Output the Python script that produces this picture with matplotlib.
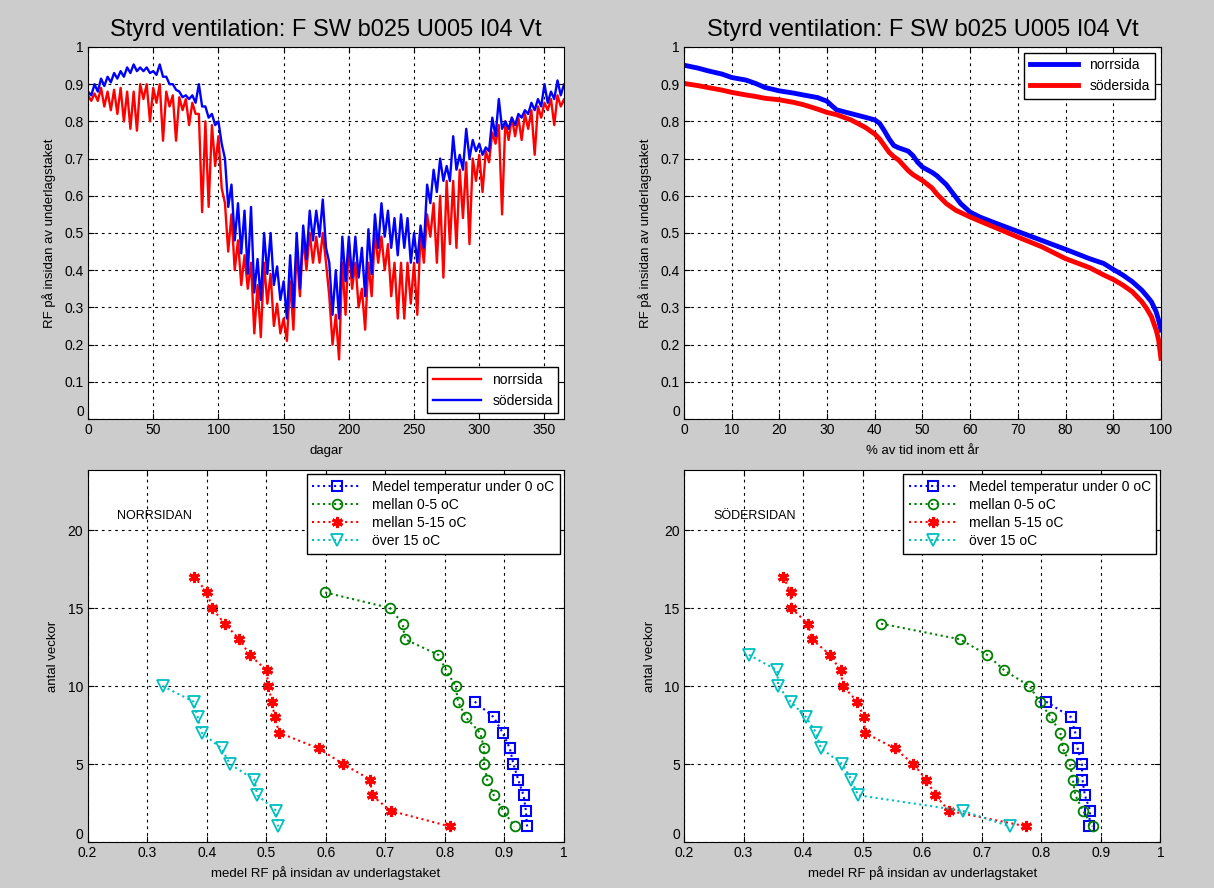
import matplotlib
matplotlib.use('Agg')
import matplotlib.pyplot as plt
from matplotlib.ticker import FuncFormatter

plt.rcParams['font.family'] = ['Liberation Sans', 'DejaVu Sans']

title = 'Styrd ventilation: F SW b025 U005 I04 Vt'

# --- top left: RF over the year, read every 5 days as band top/bottom
days = list(range(0, 366, 5))
norr_hi = [0.87, 0.875, 0.89, 0.88, 0.885, 0.89, 0.88, 0.88, 0.90, 0.90,
           0.89, 0.90, 0.88, 0.87, 0.865, 0.86, 0.85, 0.82, 0.80, 0.79,
           0.76, 0.58, 0.55, 0.48, 0.44, 0.42, 0.36, 0.42, 0.39, 0.31,
           0.27, 0.37, 0.46, 0.49, 0.50, 0.49, 0.50, 0.33, 0.28, 0.42,
           0.47, 0.42, 0.35, 0.42, 0.50, 0.49, 0.47, 0.42, 0.42, 0.42,
           0.42, 0.50, 0.55, 0.58, 0.60, 0.64, 0.64, 0.67, 0.69, 0.70,
           0.71, 0.72, 0.77, 0.79, 0.80, 0.81, 0.81, 0.82, 0.83, 0.84,
           0.85, 0.86, 0.87, 0.86]
norr_lo = [0.855, 0.855, 0.84, 0.83, 0.82, 0.80, 0.78, 0.775, 0.86, 0.80,
           0.85, 0.748, 0.84, 0.748, 0.83, 0.79, 0.82, 0.556, 0.57, 0.68,
           0.62, 0.45, 0.40, 0.36, 0.35, 0.23, 0.22, 0.31, 0.25, 0.23,
           0.21, 0.24, 0.33, 0.40, 0.42, 0.42, 0.42, 0.20, 0.16, 0.28,
           0.35, 0.30, 0.24, 0.33, 0.42, 0.40, 0.33, 0.27, 0.27, 0.31,
           0.28, 0.42, 0.49, 0.42, 0.38, 0.47, 0.46, 0.54, 0.47, 0.64,
           0.61, 0.69, 0.74, 0.55, 0.75, 0.76, 0.75, 0.78, 0.71, 0.81,
           0.83, 0.79, 0.84, 0.82]
sod_hi = [0.88, 0.90, 0.915, 0.92, 0.93, 0.935, 0.945, 0.953, 0.945, 0.945,
          0.935, 0.953, 0.92, 0.90, 0.88, 0.87, 0.87, 0.90, 0.84, 0.82,
          0.80, 0.70, 0.63, 0.58, 0.56, 0.57, 0.43, 0.50, 0.50, 0.41,
          0.37, 0.44, 0.50, 0.52, 0.56, 0.56, 0.59, 0.42, 0.40, 0.49,
          0.49, 0.49, 0.46, 0.51, 0.55, 0.58, 0.56, 0.54, 0.55, 0.54,
          0.50, 0.52, 0.63, 0.67, 0.70, 0.68, 0.76, 0.71, 0.78, 0.75,
          0.74, 0.73, 0.81, 0.86, 0.80, 0.81, 0.82, 0.83, 0.85, 0.86,
          0.90, 0.88, 0.91, 0.90]
sod_lo = [0.87, 0.88, 0.895, 0.905, 0.915, 0.92, 0.93, 0.935, 0.935, 0.93,
          0.925, 0.92, 0.90, 0.885, 0.865, 0.86, 0.85, 0.84, 0.81, 0.79,
          0.74, 0.57, 0.48, 0.445, 0.39, 0.34, 0.32, 0.39, 0.36, 0.32,
          0.27, 0.30, 0.35, 0.43, 0.48, 0.49, 0.46, 0.28, 0.27, 0.37,
          0.38, 0.38, 0.33, 0.39, 0.46, 0.49, 0.46, 0.44, 0.46, 0.42,
          0.42, 0.46, 0.58, 0.61, 0.64, 0.64, 0.67, 0.67, 0.70, 0.72,
          0.71, 0.72, 0.76, 0.78, 0.78, 0.79, 0.81, 0.82, 0.83, 0.84,
          0.85, 0.86, 0.87, 0.88]

# --- top right: duration curves
pct_n = [0, 3, 5, 8, 10, 13, 15, 17, 20, 23, 25, 28, 30, 31, 32, 35, 38, 40,
         41, 42, 43, 44, 45, 47, 48, 49, 50, 52, 53, 55, 57, 58, 60, 62, 65,
         70, 75, 80, 85, 88, 90, 92, 94, 96, 97, 98, 99, 99.5, 100]
dur_norr = [0.951, 0.943, 0.936, 0.927, 0.918, 0.911, 0.902, 0.891, 0.882,
            0.876, 0.871, 0.864, 0.854, 0.842, 0.831, 0.821, 0.811, 0.804,
            0.795, 0.775, 0.753, 0.735, 0.729, 0.720, 0.708, 0.690, 0.677,
            0.663, 0.654, 0.630, 0.596, 0.579, 0.556, 0.543, 0.528, 0.504,
            0.480, 0.456, 0.431, 0.418, 0.402, 0.387, 0.369, 0.346, 0.331,
            0.315, 0.288, 0.266, 0.239]
pct_s = [0, 3, 5, 8, 10, 13, 15, 17, 20, 23, 25, 28, 30, 32, 35, 38, 40, 41,
         42, 43, 44, 45, 47, 48, 50, 52, 53, 55, 57, 60, 62, 65, 70, 75, 80,
         85, 88, 90, 92, 94, 96, 97, 98, 99, 99.5, 100]
dur_sod = [0.902, 0.896, 0.891, 0.884, 0.878, 0.871, 0.867, 0.862, 0.858,
           0.851, 0.845, 0.833, 0.824, 0.818, 0.804, 0.784, 0.766, 0.753,
           0.735, 0.717, 0.705, 0.696, 0.668, 0.657, 0.641, 0.621, 0.605,
           0.579, 0.561, 0.543, 0.532, 0.516, 0.489, 0.463, 0.431, 0.407,
           0.387, 0.375, 0.360, 0.342, 0.315, 0.297, 0.275, 0.239, 0.213,
           0.163]

# --- bottom: weeks vs mean RF per temperature class
series_labels = ['Medel temperatur under 0 oC', 'mellan 0-5 oC',
                 'mellan 5-15 oC', 'över 15 oC']

n_under0 = [0.850, 0.882, 0.897, 0.909, 0.915, 0.923, 0.932, 0.936, 0.938]
n_0_5 = [0.599, 0.708, 0.729, 0.733, 0.789, 0.802, 0.818, 0.822, 0.835,
         0.859, 0.866, 0.866, 0.871, 0.882, 0.898, 0.917]
n_5_15 = [0.379, 0.401, 0.409, 0.430, 0.455, 0.472, 0.501, 0.503, 0.510,
          0.514, 0.522, 0.588, 0.629, 0.675, 0.677, 0.709, 0.808]
n_over15 = [0.326, 0.378, 0.385, 0.392, 0.425, 0.439, 0.480, 0.485, 0.517,
            0.520]

s_under0 = [0.808, 0.850, 0.857, 0.861, 0.868, 0.869, 0.873, 0.882, 0.880]
s_0_5 = [0.531, 0.663, 0.709, 0.738, 0.780, 0.797, 0.816, 0.832, 0.836,
         0.848, 0.853, 0.857, 0.870, 0.886]
s_5_15 = [0.367, 0.379, 0.380, 0.408, 0.415, 0.445, 0.463, 0.467, 0.491,
          0.502, 0.504, 0.554, 0.585, 0.607, 0.622, 0.645, 0.775]
s_over15 = [0.309, 0.357, 0.358, 0.379, 0.405, 0.422, 0.430, 0.466, 0.481,
            0.492, 0.668, 0.747]

fmt = FuncFormatter(lambda v, p: f'{v:g}')


def matlab_axes(ax):
    ax.set_facecolor('white')
    ax.tick_params(direction='in', top=True, right=True, length=4,
                   labelsize=10, pad=3)
    ax.grid(True, color='black', linestyle=(0, (2.5, 3.5)), linewidth=0.8)
    for s in ax.spines.values():
        s.set_linewidth(0.8)
    ax.xaxis.set_major_formatter(fmt)
    ax.yaxis.set_major_formatter(fmt)


def raise_zero(ax):
    # matlab puts the lowest y label just above the corner
    fig.canvas.draw()
    ax.get_yticklabels()[0].set_va('bottom')


def zigzag(d, hi, lo):
    xs, ys = [], []
    for k in range(len(d)):
        xs += [d[k], d[k] + 2.5]
        ys += [hi[k], lo[k]]
    return xs, ys


fig = plt.figure(figsize=(12.14, 8.88), dpi=100, facecolor='#cccccc')
all_axes = []

# top left
ax1 = fig.add_axes([0.0725, 0.5282, 0.3921, 0.4189])
matlab_axes(ax1)
x, y = zigzag(days, norr_hi, norr_lo)
ax1.plot(x, y, color='red', lw=1.7, label='norrsida')
x, y = zigzag(days, sod_hi, sod_lo)
ax1.plot(x, y, color='blue', lw=1.7, label='södersida')
ax1.set_xlim(0, 365)
ax1.set_ylim(0, 1)
ax1.set_xticks(range(0, 351, 50))
ax1.set_yticks([i / 10 for i in range(11)])
ax1.set_title(title, fontsize=17, pad=8)
ax1.set_xlabel('dagar', fontsize=9.5, labelpad=6)
ax1.set_ylabel('RF på insidan av underlagstaket', fontsize=9.5, labelpad=6)
ax1.legend(loc='lower right', fontsize=10, fancybox=False, edgecolor='black',
           framealpha=1, handlelength=3.5, borderaxespad=0.4)
all_axes.append(ax1)

# top right
ax2 = fig.add_axes([0.5634, 0.5282, 0.3929, 0.4189])
matlab_axes(ax2)
ax2.plot(pct_n, dur_norr, color='blue', lw=3.5, label='norrsida')
ax2.plot(pct_s, dur_sod, color='red', lw=3.5, label='södersida')
ax2.set_xlim(0, 100)
ax2.set_ylim(0, 1)
ax2.set_xticks(range(0, 101, 10))
ax2.set_yticks([i / 10 for i in range(11)])
ax2.set_title(title, fontsize=17, pad=8)
ax2.set_xlabel('% av tid inom ett år', fontsize=9.5, labelpad=6)
ax2.set_ylabel('RF på insidan av underlagstaket', fontsize=9.5, labelpad=6)
ax2.legend(loc='upper right', fontsize=10, fancybox=False, edgecolor='black',
           framealpha=1, handlelength=3.5, borderaxespad=0.4)
all_axes.append(ax2)

# bottom plots
styles = [dict(color='blue', marker='s', ms=7, mfc='none', mew=1.5),
          dict(color='green', marker='o', ms=7, mfc='none', mew=1.3),
          dict(color='red', marker=(6, 2, 0), ms=8, mew=2.2),
          dict(color=(0, 0.75, 0.75), marker='v', ms=9, mfc='none', mew=1.3)]

panels = [(0.0721, [n_under0, n_0_5, n_5_15, n_over15], 'NORRSIDAN'),
          (0.5634, [s_under0, s_0_5, s_5_15, s_over15], 'SÖDERSIDAN')]

for left, groups, name in panels:
    ax = fig.add_axes([left, 0.0518, 0.3925, 0.4189])
    matlab_axes(ax)
    for vals, st, lab in zip(groups, styles, series_labels):
        weeks = list(range(len(vals), 0, -1))
        ax.plot(vals, weeks, linestyle=':', lw=1.5, label=lab, **st)
    ax.set_xlim(0.2, 1)
    ax.set_ylim(0, 23.85)
    ax.set_xticks([0.2 + i / 10 for i in range(9)])
    ax.set_yticks(range(0, 21, 5))
    ax.text(0.25, 20.9, name, fontsize=9, va='center')
    ax.set_xlabel('medel RF på insidan av underlagstaket', fontsize=9.5,
                  labelpad=4)
    ax.set_ylabel('antal veckor', fontsize=9.5, labelpad=6)
    ax.legend(loc='upper right', fontsize=10, fancybox=False,
              edgecolor='black', framealpha=1, handlelength=3.5,
              borderaxespad=0.3, labelspacing=0.3)
    all_axes.append(ax)

for ax in all_axes:
    raise_zero(ax)

fig.savefig('out.png', dpi=100, facecolor=fig.get_facecolor())
